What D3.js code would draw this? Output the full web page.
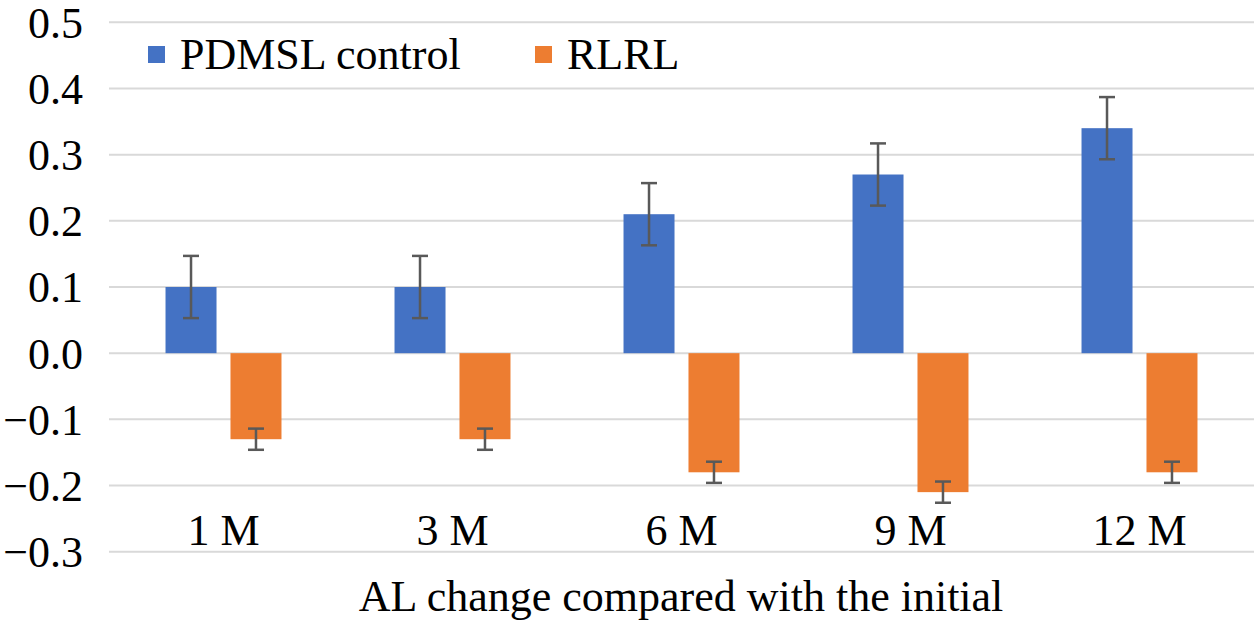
<!DOCTYPE html>
<html lang="en">
<head>
    <meta charset="UTF-8">
    <title>AL change</title>
    <script src="https://cdn.jsdelivr.net/npm/d3@7"></script>
    <style>
        body{ margin:0; background:#fff; }
    </style>
</head>
<body>
<svg id="chart" width="1259" height="625" font-family="'Liberation Serif', 'Times New Roman', Times, serif"></svg>
<script>
    // data
    let months = ["1 M", "3 M", "6 M", "9 M", "12 M"]
    let series = ["PDMSL control", "RLRL"]
    let pdmsl = [0.10, 0.10, 0.21, 0.27, 0.34]
    let pdmsl_err = [0.047, 0.047, 0.047, 0.047, 0.047]
    let rlrl = [-0.13, -0.13, -0.18, -0.21, -0.18]
    let rlrl_err = [0.016, 0.016, 0.016, 0.016, 0.016]
    let yTicks = [-0.3, -0.2, -0.1, 0.0, 0.1, 0.2, 0.3, 0.4, 0.5]
    let colors = ["#4472c4", "#ed7d31"]
    let serif = "'Liberation Serif', 'Times New Roman', Times, serif"

    let svg = d3.select("#chart")

    let x = d3.scaleBand().domain(months).range([109, 1254]).padding(0)
    let xs = d3.scaleBand().domain(series).range([0, x.bandwidth()])
        .paddingInner(0.215).paddingOuter(0.87)
    let y = d3.scaleLinear().domain([-0.3, 0.5]).range([551.7, 22.3])

    // gridlines
    svg.append("g").selectAll("line").data(yTicks).join("line")
        .attr("x1", 109).attr("x2", 1254)
        .attr("y1", d => y(d)).attr("y2", d => y(d))
        .attr("stroke", "#d9d9d9").attr("stroke-width", 2)

    // y labels
    let fmt = d3.format(".1f")
    svg.append("g").selectAll("text").data(yTicks).join("text")
        .attr("x", 83).attr("y", d => y(d))
        .attr("dy", "0.35em")
        .attr("text-anchor", "end")
        .attr("font-family", serif)
        .attr("font-size", 44)
        .text(d => fmt(d).replace("-", "\u2212"))

    let rows = months.map((m, i) => ({
        m: m,
        vals: [
            {s: series[0], v: pdmsl[i], e: pdmsl_err[i], c: colors[0]},
            {s: series[1], v: rlrl[i], e: rlrl_err[i], c: colors[1]}
        ]
    }))

    let groups = svg.append("g").selectAll("g").data(rows).join("g")
        .attr("transform", d => `translate(${x(d.m)},0)`)

    groups.selectAll("rect").data(d => d.vals).join("rect")
        .attr("x", d => xs(d.s))
        .attr("width", xs.bandwidth())
        .attr("y", d => y(Math.max(0, d.v)))
        .attr("height", d => Math.abs(y(d.v) - y(0)))
        .attr("fill", d => d.c)

    // error bars
    let eb = groups.selectAll("g.err").data(d => d.vals).join("g")
        .attr("class", "err")
        .attr("stroke", "#595959").attr("stroke-width", 2.5)
    let cx = d => xs(d.s) + xs.bandwidth() / 2
    eb.append("line")
        .attr("x1", cx).attr("x2", cx)
        .attr("y1", d => y(d.v + d.e)).attr("y2", d => y(d.v - d.e))
    eb.append("line")
        .attr("x1", d => cx(d) - 8).attr("x2", d => cx(d) + 8)
        .attr("y1", d => y(d.v + d.e)).attr("y2", d => y(d.v + d.e))
    eb.append("line")
        .attr("x1", d => cx(d) - 8).attr("x2", d => cx(d) + 8)
        .attr("y1", d => y(d.v - d.e)).attr("y2", d => y(d.v - d.e))

    // x labels
    svg.append("g").selectAll("text").data(months).join("text")
        .attr("x", d => x(d) + x.bandwidth() / 2)
        .attr("y", 545)
        .attr("text-anchor", "middle")
        .attr("font-family", serif)
        .attr("font-size", 44)
        .text(d => d)

    // axis title
    svg.append("text")
        .attr("x", 681).attr("y", 611)
        .attr("text-anchor", "middle")
        .attr("font-family", serif)
        .attr("font-size", 44)
        .text("AL change compared with the initial")

    // legend
    let legX = [148, 535]
    let leg = svg.append("g").selectAll("g").data(series).join("g")
        .attr("transform", (d, i) => `translate(${legX[i]},46)`)
    leg.append("rect")
        .attr("width", 17).attr("height", 17)
        .attr("fill", (d, i) => colors[i])
    leg.append("text")
        .attr("x", 32).attr("y", 23)
        .attr("font-family", serif)
        .attr("font-size", 44)
        .text(d => d)
</script>
</body>
</html>
